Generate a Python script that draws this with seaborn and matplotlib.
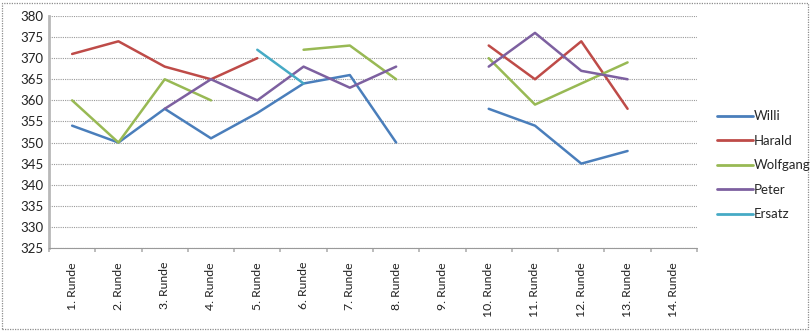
import numpy as np
import pandas as pd
import matplotlib
matplotlib.use("Agg")
import matplotlib.pyplot as plt
from matplotlib.lines import Line2D
import seaborn as sns

nan = np.nan
rounds = [f"{i}. Runde" for i in range(1, 15)]
players = ["Willi", "Harald", "Wolfgang", "Peter", "Ersatz"]

willi    = [354, 350, 358, 351, 357, 364, 366, 350, nan, 358, 354, 345, 348, nan]
harald   = [371, 374, 368, 365, 370, nan, nan, nan, nan, 373, 365, 374, 358, nan]
wolfgang = [360, 350, 365, 360, nan, 372, 373, 365, nan, 370, 359, 364, 369, nan]
peter    = [nan, nan, 358, 365, 360, 368, 363, 368, nan, 368, 376, 367, 365, nan]
ersatz   = [nan, nan, nan, nan, 372, 364, nan, nan, nan, nan, nan, nan, nan, nan]

series = dict(zip(players, [willi, harald, wolfgang, peter, ersatz]))
colors = ["#4A7EBB", "#BE4B48", "#98B954", "#7D60A0", "#46AAC5"]
palette = dict(zip(players, colors))

# long-form table; each contiguous run of values gets its own segment id,
# so missing rounds leave gaps in the lines
rows = []
for name, vals in series.items():
    seg = 0
    prev_nan = True
    for i, v in enumerate(vals):
        if np.isnan(v):
            prev_nan = True
            continue
        if prev_nan:
            seg += 1
            prev_nan = False
        rows.append({"Spieler": name, "Runde": i, "Ringe": v,
                     "Abschnitt": f"{name}-{seg}"})
df = pd.DataFrame(rows)

sns.set_theme(style="white")
plt.rcParams["font.family"] = ["Lato", "DejaVu Sans"]

fig = plt.figure(figsize=(8.12, 3.31), dpi=100)
ax = fig.add_axes([49 / 812, 1 - 248 / 331, 648 / 812, 232 / 331])

sns.lineplot(data=df, x="Runde", y="Ringe", hue="Spieler", units="Abschnitt",
             estimator=None, palette=palette, hue_order=players,
             linewidth=1.8, ax=ax, legend=False)

ax.set_xlim(-0.5, 13.5)
ax.set_ylim(325, 380)
ax.set_yticks(np.arange(325, 381, 5))
ax.set_xticks(range(14))
ax.set_xticklabels(rounds, rotation=90, fontsize=8.8, color="#222222")
ax.tick_params(axis="y", labelsize=9.5, labelcolor="#222222", length=0, pad=4)
ax.tick_params(axis="x", length=0, pad=10)
ax.set_xlabel("")
ax.set_ylabel("")

# dotted horizontal gridlines
ax.yaxis.grid(True, color="#9a9a9a", linestyle=(0, (1, 1)), linewidth=0.8)
ax.set_axisbelow(True)

for s in ["top", "right"]:
    ax.spines[s].set_visible(False)
ax.spines["left"].set_color("#b8b8b8")
ax.spines["left"].set_linewidth(2.0)
ax.spines["bottom"].set_color("#9a9a9a")
ax.spines["bottom"].set_linestyle((0, (1, 1)))
ax.spines["bottom"].set_linewidth(0.8)

# category boundary tick marks below the axis
for b in np.arange(-0.5, 14.0, 1.0):
    ax.plot([b, b], [325, 324.0], color="#b0b0b0", lw=1.2,
            clip_on=False, solid_capstyle="butt")

handles = [Line2D([0], [0], color=palette[p], lw=2.0) for p in players]
fig.legend(handles, players, loc="upper left",
           bbox_to_anchor=(712 / 812, 1 - 105 / 331),
           frameon=False, fontsize=9.5, handlelength=2.7,
           handletextpad=0.1, labelspacing=0.95, borderaxespad=0)

# dotted outer frame of the chart
frame = plt.Rectangle((2 / 812, 2 / 331), 806 / 812, 326 / 331,
                      transform=fig.transFigure, fill=False,
                      edgecolor="#8c8c8c", linewidth=0.9,
                      linestyle=(0, (1, 1)))
fig.add_artist(frame)

fig.savefig("out.png", dpi=100)
